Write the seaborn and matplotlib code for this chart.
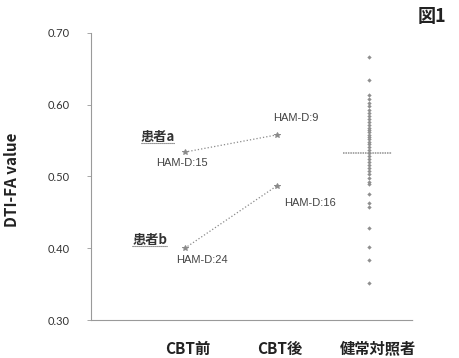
import numpy as np
import pandas as pd
import matplotlib
matplotlib.use("Agg")
import matplotlib.pyplot as plt
import seaborn as sns
from matplotlib.lines import Line2D
from matplotlib.transforms import ScaledTranslation

# Data
groups = ["CBT前", "CBT後", "健常対照者"]
patient_a = [0.534, 0.558]          # before / after CBT
patient_b = [0.400, 0.487]
ham_d_a = ["HAM-D:15", "HAM-D:9"]
ham_d_b = ["HAM-D:24", "HAM-D:16"]
controls = [0.667, 0.634, 0.614, 0.608, 0.603, 0.598, 0.593, 0.588, 0.584,
            0.580, 0.576, 0.572, 0.568, 0.565, 0.562, 0.558, 0.555, 0.552,
            0.548, 0.545, 0.541, 0.537, 0.533, 0.528, 0.524, 0.520, 0.516,
            0.512, 0.508, 0.503, 0.498, 0.493, 0.489, 0.476, 0.463, 0.458,
            0.428, 0.402, 0.384, 0.351]
y_ticks = [0.30, 0.40, 0.50, 0.60, 0.70]

sns.set_theme(style="white")
plt.rcParams["font.family"] = ["Noto Sans CJK JP", "DejaVu Sans"]

fig = plt.figure(figsize=(4.59, 3.58), dpi=100)
ax = fig.add_axes([0.198, 0.106, 0.702, 0.802])

grey = "#8a8a8a"

pat = pd.DataFrame({
    "group": groups[:2] * 2,
    "value": patient_a + patient_b,
    "patient": ["a", "a", "b", "b"],
})
sns.pointplot(data=pat, x="group", y="value", hue="patient", order=groups,
              palette=[grey, grey], markers=["*", "*"], linestyles=[":", ":"],
              errorbar=None, legend=False, markersize=4, linewidth=0.9, ax=ax)

sns.stripplot(x=[groups[2]] * len(controls), y=controls, order=groups,
              jitter=False, marker="D", size=2.2, color="#8f8f8f",
              linewidth=0, ax=ax)

# group mean of healthy controls
ci = groups.index("健常対照者")
ax.hlines(np.mean(controls), ci - 0.28, ci + 0.25, color="#909090",
          linewidth=1.1, linestyles=(0, (1, 0.6)))

ax.set_xlim(-1.02, 2.48)
ax.set_ylim(0.30, 0.70)
ax.set_yticks(y_ticks)
ax.set_yticklabels([f"{v:.2f}" for v in y_ticks], fontsize=8, color="#333333",
                   family=["Lato", "DejaVu Sans"])
ax.set_xticks(range(len(groups)))
ax.set_xticklabels(groups, fontsize=11, fontweight="bold", color="#222222")
ax.tick_params(axis="x", length=0, pad=15)
ax.tick_params(axis="y", length=3, width=0.6, color="#999999", pad=12,
               left=True)
# nudge the group labels slightly to the right
for i, lab in enumerate(ax.get_xticklabels()):
    shift = 0.09 if i == 2 else 0.03
    lab.set_transform(lab.get_transform() +
                      ScaledTranslation(shift, 0, fig.dpi_scale_trans))
ax.set_xlabel("")
ax.set_ylabel("DTI-FA value", fontsize=11, fontweight="bold", color="#222222")
ax.yaxis.set_label_coords(-0.22, 0.49)

for side in ["top", "right"]:
    ax.spines[side].set_visible(False)
for side in ["left", "bottom"]:
    ax.spines[side].set_color("#9a9a9a")
    ax.spines[side].set_linewidth(0.8)
    ax.spines[side].set_linestyle((0, (1, 1)))

hs = dict(textcoords="offset pixels", ha="center", va="center",
          fontsize=8, color="#444444", family=["Liberation Sans", "DejaVu Sans"])
ax.annotate(ham_d_a[0], xy=(0, patient_a[0]), xytext=(-3, -11), **hs)
ax.annotate(ham_d_a[1], xy=(1, patient_a[1]), xytext=(19, 17), **hs)
ax.annotate(ham_d_b[0], xy=(0, patient_b[0]), xytext=(17, -12), **hs)
ax.annotate(ham_d_b[1], xy=(1, patient_b[1]), xytext=(33, -17), **hs)

ps = dict(textcoords="offset pixels", ha="center", va="center",
          fontsize=9.5, fontweight="bold", color="#333333")
ta = ax.annotate("患者a", xy=(0, patient_a[0]), xytext=(-27, 15), **ps)
tb = ax.annotate("患者b", xy=(0, patient_b[0]), xytext=(-35, 8), **ps)

fig.text(0.94, 0.955, "図1", fontsize=13, fontweight="bold", ha="center",
         va="center", color="#222222")

# underline the patient labels
fig.canvas.draw()
inv = fig.transFigure.inverted()
for t in (ta, tb):
    bb = t.get_window_extent()
    (x0, y0), (x1, _) = inv.transform([(bb.x0, bb.y0 + 1), (bb.x1, bb.y0 + 1)])
    fig.add_artist(Line2D([x0, x1], [y0, y0], transform=fig.transFigure,
                          color="#555555", linewidth=0.8,
                          linestyle=(0, (1, 0.8))))

fig.savefig("out.png", dpi=100)
